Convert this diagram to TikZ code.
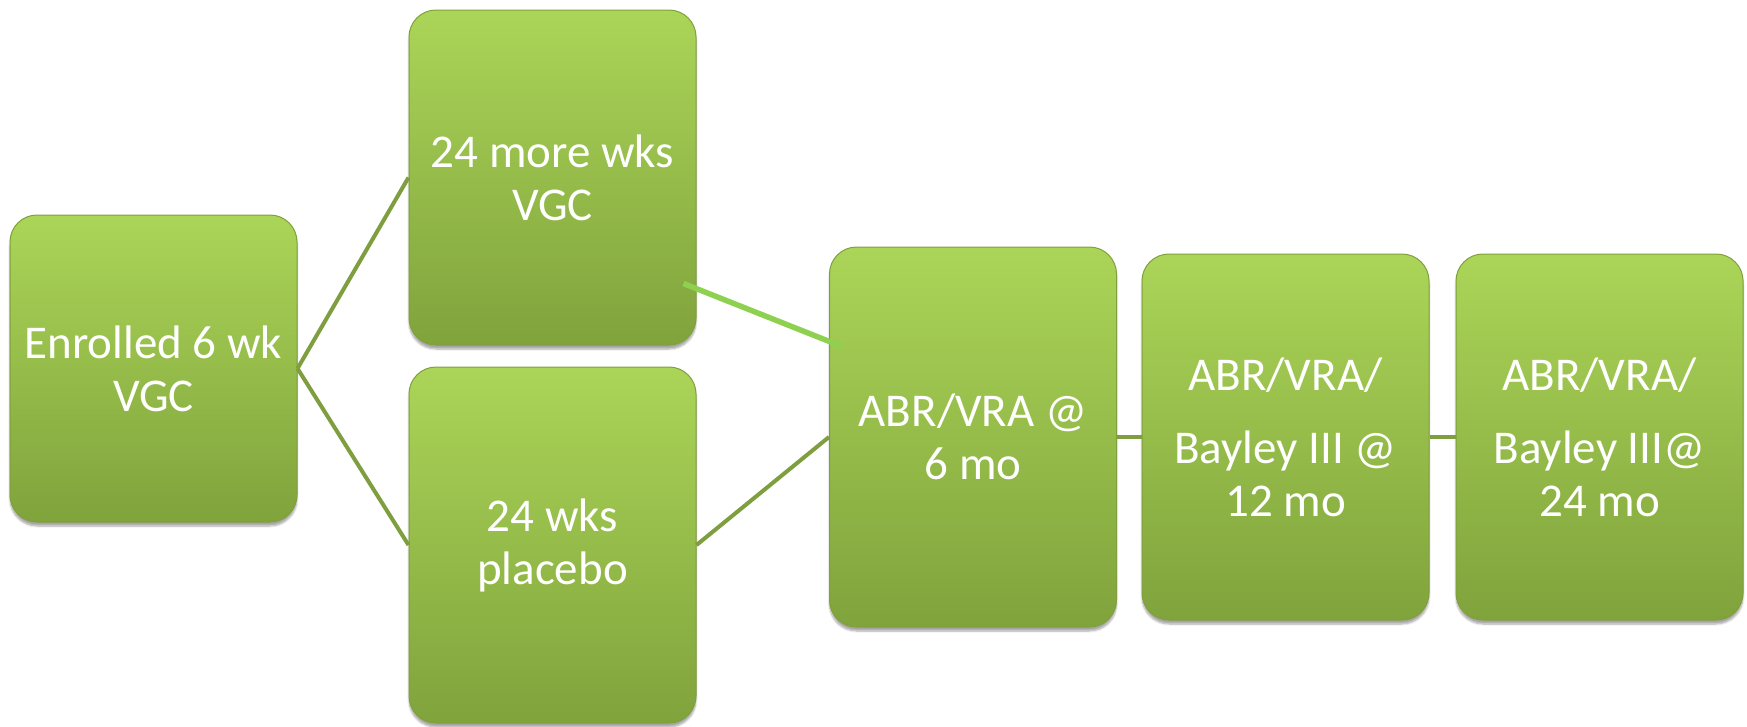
\documentclass[tikz,border=0pt]{standalone}
\usepackage{fontspec}
\setmainfont{Carlito}
\usetikzlibrary{shadows.blur,calc}
\definecolor{boxtop}{RGB}{171,213,88}
\definecolor{boxmid}{RGB}{153,195,75}
\definecolor{boxbot}{RGB}{128,163,60}
\definecolor{boxedge}{RGB}{128,160,60}
\definecolor{connc}{RGB}{126,158,63}
\definecolor{connlight}{RGB}{142,208,79}
\tikzset{
  stagebox/.style={rectangle, rounded corners=27pt, minimum width=287pt,
    top color=boxtop, middle color=boxmid, bottom color=boxbot,
    draw=boxedge, line width=1pt,
    blur shadow={shadow xshift=0pt, shadow yshift=-4pt, shadow blur steps=6, shadow opacity=35},
    text=white, align=center, inner sep=0pt,
    font=\fontsize{47}{53}\selectfont},
  conn/.style={draw=connc, line width=4pt},
  connhi/.style={draw=connlight, line width=5.5pt}
}
\begin{document}
\begin{tikzpicture}[x=1pt,y=-1pt]
\useasboundingbox (0,0) rectangle (1747,726);
\node[stagebox, minimum height=307pt] (enr) at (153.5,368.5) {Enrolled 6 wk\\VGC};
\node[stagebox, minimum height=335pt] (up) at (552.5,177.5) {24 more wks\\VGC};
\node[stagebox, minimum height=356pt] (lo) at (552.5,545) {24 wks\\placebo};
\node[stagebox, minimum height=380pt] (abr) at (973,437) {ABR/VRA @\\6 mo};
\node[stagebox, minimum height=366pt] (m12) at (1285.5,437) {ABR/VRA/\\[20pt]Bayley III @\\12 mo};
\node[stagebox, minimum height=366pt] (m24) at (1599.5,437) {ABR/VRA/\\[20pt]Bayley III@\\24 mo};
\draw[conn] (enr.east) -- (up.west);
\draw[conn] (enr.east) -- (lo.west);
\draw[conn] (lo.east) -- (abr.west);
\draw[conn] (abr.east) -- (m12.west);
\draw[conn] (m12.east) -- (m24.west);
\coordinate (hiA) at ($(up.south east)+(-13,-62)$);
\coordinate (hiB) at ($(abr.north west)+(13,100)$);
\draw[connhi] (hiA) -- (hiB);
\end{tikzpicture}
\end{document}
